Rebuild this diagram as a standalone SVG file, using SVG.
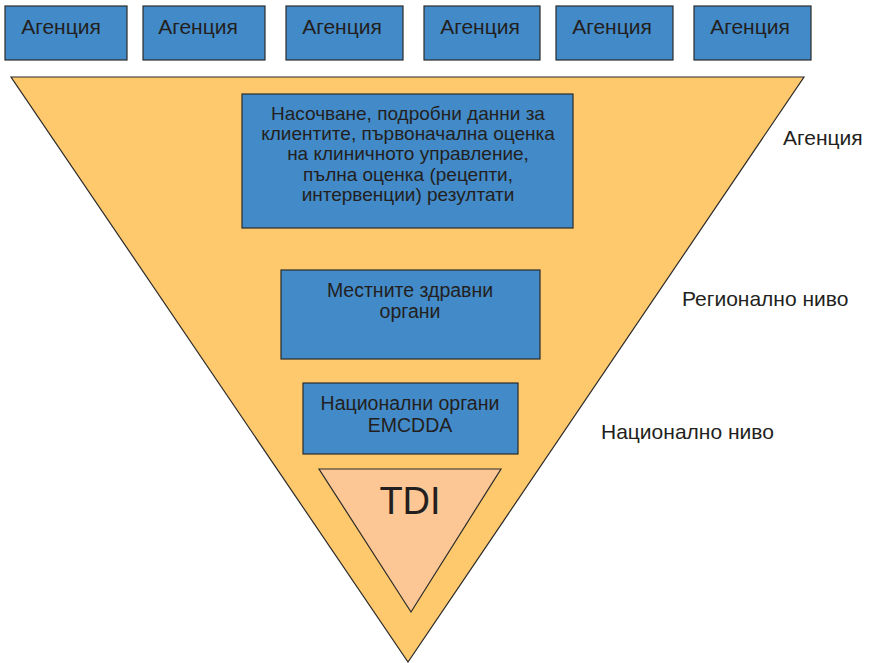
<svg xmlns="http://www.w3.org/2000/svg" width="871" height="663" viewBox="0 0 871 663">
<style>
.box{fill:#428ac8;stroke:#2b2b2b;stroke-width:1.2}
.t{font-family:"Liberation Sans",Arial,sans-serif;fill:#231f20}
.c{text-anchor:middle}
.big{font-size:21px}
.mid{font-size:19px}
.in{font-size:19.5px}
.tdi{font-size:38px}
</style>
<rect width="871" height="663" fill="#fff"/>
<g id="funnel"><polygon points="11,77 804,77 408,662" fill="#fec86c" stroke="#2b2b2b" stroke-width="1.2"/></g>
<g id="agency1"><rect class="box" x="5" y="6" width="122" height="54"/><text class="t c big" x="61" y="34">Агенция</text></g>
<g id="agency2"><rect class="box" x="143" y="6" width="122" height="54"/><text class="t c big" x="198" y="34">Агенция</text></g>
<g id="agency3"><rect class="box" x="286" y="6" width="117" height="54"/><text class="t c big" x="342" y="34">Агенция</text></g>
<g id="agency4"><rect class="box" x="424" y="6" width="116" height="54"/><text class="t c big" x="480" y="34">Агенция</text></g>
<g id="agency5"><rect class="box" x="556" y="6" width="117" height="54"/><text class="t c big" x="612" y="34">Агенция</text></g>
<g id="agency6"><rect class="box" x="694" y="6" width="117" height="54"/><text class="t c big" x="750" y="34">Агенция</text></g>
<g id="details"><rect class="box" x="242" y="94" width="331" height="134"/>
<text class="t c mid"><tspan x="408" y="120">Насочване, подробни данни за</tspan><tspan x="408" y="140">клиентите, първоначална оценка</tspan><tspan x="408" y="160">на клиничното управление,</tspan><tspan x="408" y="181">пълна оценка (рецепти,</tspan><tspan x="408" y="201">интервенции) резултати</tspan></text></g>
<g id="local"><rect class="box" x="281" y="270" width="259" height="89"/>
<text class="t c in"><tspan x="410" y="297">Местните здравни</tspan><tspan x="410" y="318">органи</tspan></text></g>
<g id="national"><rect class="box" x="303" y="383" width="215" height="71"/>
<text class="t c in"><tspan x="410" y="410">Национални органи</tspan><tspan x="410" y="432">EMCDDA</tspan></text></g>
<g id="tdi"><polygon points="319,469 501,469 411,612" fill="#fcc795" stroke="#2b2b2b" stroke-width="1.2"/>
<text class="t c tdi" x="410" y="514">TDI</text></g>
<g id="labels">
<text class="t big" x="783" y="145">Агенция</text>
<text class="t big" x="682" y="306">Регионално ниво</text>
<text class="t big" x="601" y="439">Национално ниво</text>
</g>
<g id="connectors"/>
</svg>
